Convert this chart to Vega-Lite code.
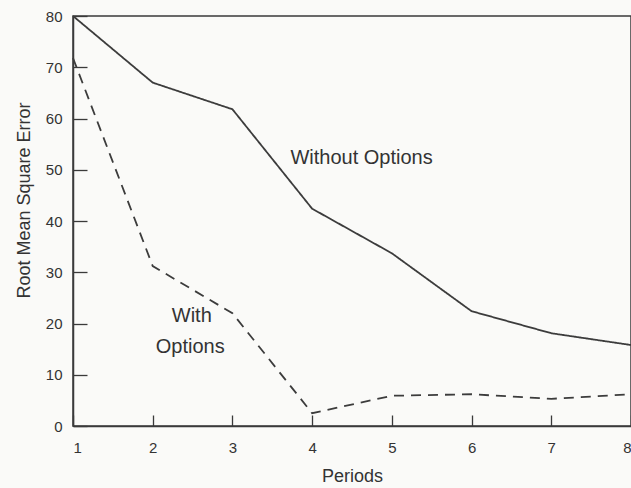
{
  "$schema": "https://vega.github.io/schema/vega-lite/v6.json",
  "width": 558,
  "height": 410,
  "autosize": "none",
  "padding": {"left": 73, "top": 16, "right": 0, "bottom": 62},
  "background": "#fafaf8",
  "config": {
    "view": {"stroke": "#3a3a3a", "strokeWidth": 1.5},
    "font": "Liberation Sans",
    "axis": {
      "grid": false,
      "domainColor": "#3a3a3a",
      "domainWidth": 1.5,
      "tickColor": "#3a3a3a",
      "tickWidth": 1.3,
      "labelColor": "#333333",
      "labelFont": "Liberation Sans",
      "labelFontSize": 15,
      "titleColor": "#333333",
      "titleFont": "Liberation Sans",
      "titleFontSize": 18,
      "titleFontWeight": "normal"
    }
  },
  "datasets": {
    "series": [
      {"period": 1, "rmse": 80, "series": "Without Options"},
      {"period": 2, "rmse": 67, "series": "Without Options"},
      {"period": 3, "rmse": 61.8, "series": "Without Options"},
      {"period": 4, "rmse": 42.4, "series": "Without Options"},
      {"period": 5, "rmse": 33.7, "series": "Without Options"},
      {"period": 6, "rmse": 22.4, "series": "Without Options"},
      {"period": 7, "rmse": 18.1, "series": "Without Options"},
      {"period": 8, "rmse": 15.8, "series": "Without Options"},
      {"period": 1, "rmse": 71.8, "series": "With Options"},
      {"period": 2, "rmse": 31.2, "series": "With Options"},
      {"period": 3, "rmse": 22, "series": "With Options"},
      {"period": 4, "rmse": 2.5, "series": "With Options"},
      {"period": 5, "rmse": 5.9, "series": "With Options"},
      {"period": 6, "rmse": 6.2, "series": "With Options"},
      {"period": 7, "rmse": 5.3, "series": "With Options"},
      {"period": 8, "rmse": 6.2, "series": "With Options"}
    ],
    "labels": [
      {"x": 4.62, "y": 52.3, "text": "Without Options"},
      {"x": 2.49, "y": 21.4, "text": "With"},
      {"x": 2.47, "y": 15.4, "text": "Options"}
    ]
  },
  "layer": [
    {
      "data": {"name": "series"},
      "mark": {"type": "line", "color": "#3c3c3c", "strokeWidth": 1.8},
      "encoding": {
        "x": {
          "field": "period",
          "type": "quantitative",
          "scale": {"domain": [1, 8], "nice": false, "zero": false},
          "axis": {
            "title": "Periods",
            "values": [1, 2, 3, 4, 5, 6, 7, 8],
            "format": "d",
            "tickSize": -11,
            "labelPadding": 25,
            "titlePadding": 12
          }
        },
        "y": {
          "field": "rmse",
          "type": "quantitative",
          "scale": {"domain": [0, 80], "nice": false},
          "axis": {
            "title": "Root Mean Square Error",
            "values": [0, 10, 20, 30, 40, 50, 60, 70, 80],
            "tickSize": -14,
            "labelPadding": 25,
            "titlePadding": 12,
            "titleY": 184
          }
        },
        "strokeDash": {
          "field": "series",
          "type": "nominal",
          "scale": {"domain": ["Without Options", "With Options"], "range": [[1, 0], [10, 7]]},
          "legend": null
        }
      }
    },
    {
      "data": {"name": "labels"},
      "mark": {"type": "text", "font": "Liberation Sans", "fontSize": 20, "color": "#333333"},
      "encoding": {
        "x": {"field": "x", "type": "quantitative"},
        "y": {"field": "y", "type": "quantitative"},
        "text": {"field": "text"}
      }
    }
  ]
}
